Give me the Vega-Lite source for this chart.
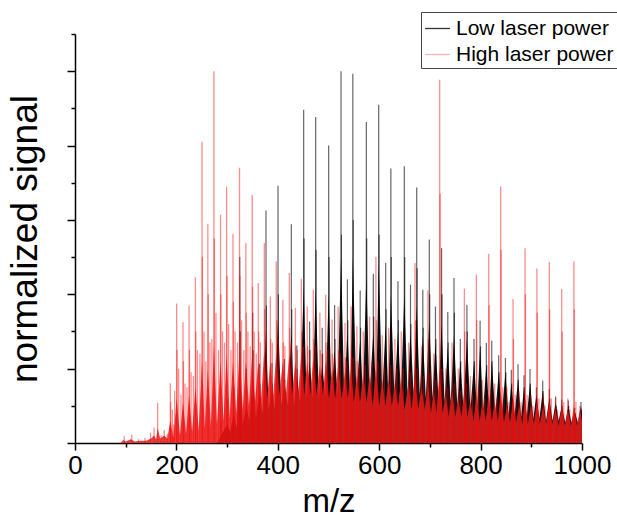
{
"$schema": "https://vega.github.io/schema/vega-lite/v6.json",
"width": 507, "height": 409,
"autosize": {"type": "none"},
"padding": {"left": 75, "top": 34, "right": 35, "bottom": 76},
"background": "#ffffff",
"config": {"view": {"stroke": null}, "font": "Liberation Sans"},
"datasets": {
"sticks": [
{"s":"H","mz":97,"v":0.018},{"s":"H","mz":112,"v":0.022},{"s":"H","mz":125,"v":0.01},{"s":"H","mz":138,"v":0.014},{"s":"H","mz":149,"v":0.028},{"s":"H","mz":156,"v":0.042},{"s":"H","mz":163,"v":0.108},{"s":"H","mz":170,"v":0.02},{"s":"H","mz":176,"v":0.035},{"s":"H","mz":182,"v":0.025},{"s":"H","mz":188,"v":0.161},{"s":"H","mz":194,"v":0.05},{"s":"H","mz":200.5,"v":0.375},{"s":"H","mz":213,"v":0.325},{"s":"H","mz":225,"v":0.37},{"s":"H","mz":237.5,"v":0.446},{"s":"H","mz":250.5,"v":0.81},{"s":"H","mz":262,"v":0.59},{"s":"H","mz":274,"v":1.0},{"s":"H","mz":287,"v":0.614},{"s":"H","mz":299,"v":0.69},{"s":"H","mz":311.6,"v":0.563},{"s":"H","mz":324.5,"v":0.74},{"s":"H","mz":337,"v":0.538},{"s":"H","mz":349.5,"v":0.667},{"s":"H","mz":361.5,"v":0.43},{"s":"H","mz":373.4,"v":0.538},{"s":"H","mz":385.3,"v":0.394},{"s":"H","mz":397,"v":0.488},{"s":"H","mz":410,"v":0.385},{"s":"H","mz":422.7,"v":0.457},{"s":"H","mz":434.7,"v":0.363},{"s":"H","mz":446.4,"v":0.442},{"s":"H","mz":458,"v":0.367},{"s":"H","mz":470,"v":0.412},{"s":"H","mz":483,"v":0.35},{"s":"H","mz":494.5,"v":0.399},{"s":"H","mz":507,"v":0.332},{"s":"H","mz":519,"v":0.367},{"s":"H","mz":532.5,"v":0.323},{"s":"H","mz":544.4,"v":0.367},{"s":"H","mz":556,"v":0.313},{"s":"H","mz":568.5,"v":0.3},{"s":"H","mz":581,"v":0.34},{"s":"H","mz":593.5,"v":0.5},{"s":"H","mz":606,"v":0.29},{"s":"H","mz":618.5,"v":0.31},{"s":"H","mz":631,"v":0.28},{"s":"H","mz":643.5,"v":0.3},{"s":"H","mz":658,"v":0.27},{"s":"H","mz":670.6,"v":0.484},{"s":"H","mz":683.3,"v":0.26},{"s":"H","mz":696,"v":0.41},{"s":"H","mz":707.6,"v":0.24},{"s":"H","mz":719.3,"v":0.977},{"s":"H","mz":731.5,"v":0.2},{"s":"H","mz":743.7,"v":0.27},{"s":"H","mz":756,"v":0.2},{"s":"H","mz":768,"v":0.415},{"s":"H","mz":779.8,"v":0.18},{"s":"H","mz":791.6,"v":0.453},{"s":"H","mz":803.8,"v":0.17},{"s":"H","mz":816,"v":0.509},{"s":"H","mz":827.8,"v":0.16},{"s":"H","mz":839.6,"v":0.69},{"s":"H","mz":851.8,"v":0.15},{"s":"H","mz":864,"v":0.387},{"s":"H","mz":875.8,"v":0.14},{"s":"H","mz":887.6,"v":0.524},{"s":"H","mz":899.3,"v":0.13},{"s":"H","mz":911,"v":0.469},{"s":"H","mz":923.3,"v":0.13},{"s":"H","mz":935.5,"v":0.487},{"s":"H","mz":947.8,"v":0.12},{"s":"H","mz":960,"v":0.414},{"s":"H","mz":972,"v":0.12},{"s":"H","mz":984,"v":0.488},{"s":"H","mz":996,"v":0.1},
{"s":"H","mz":188.8,"v":0.11},{"s":"H","mz":201.3,"v":0.25},{"s":"H","mz":213.8,"v":0.22},{"s":"H","mz":225.8,"v":0.25},{"s":"H","mz":238.3,"v":0.3},{"s":"H","mz":251.3,"v":0.5},{"s":"H","mz":262.8,"v":0.4},{"s":"H","mz":274.8,"v":0.55},{"s":"H","mz":287.8,"v":0.4},{"s":"H","mz":299.8,"v":0.45},{"s":"H","mz":312.4,"v":0.38},{"s":"H","mz":325.3,"v":0.45},{"s":"H","mz":337.8,"v":0.35},{"s":"H","mz":350.3,"v":0.42},{"s":"H","mz":362.3,"v":0.3},{"s":"H","mz":374.2,"v":0.36},{"s":"H","mz":386.1,"v":0.28},{"s":"H","mz":397.8,"v":0.33},{"s":"H","mz":410.8,"v":0.27},{"s":"H","mz":423.5,"v":0.31},{"s":"H","mz":435.5,"v":0.26},{"s":"H","mz":447.2,"v":0.3},{"s":"H","mz":458.8,"v":0.26},{"s":"H","mz":470.8,"v":0.28},{"s":"H","mz":483.8,"v":0.25},{"s":"H","mz":495.3,"v":0.27},{"s":"H","mz":507.8,"v":0.24},{"s":"H","mz":519.8,"v":0.25},{"s":"H","mz":533.3,"v":0.23},{"s":"H","mz":545.2,"v":0.25},{"s":"H","mz":556.8,"v":0.22},{"s":"H","mz":594.3,"v":0.33},{"s":"H","mz":671.4,"v":0.33},{"s":"H","mz":696.8,"v":0.28},{"s":"H","mz":720.1,"v":0.67},{"s":"H","mz":768.8,"v":0.3},{"s":"H","mz":792.4,"v":0.33},{"s":"H","mz":816.8,"v":0.37},{"s":"H","mz":840.4,"v":0.52},{"s":"H","mz":864.8,"v":0.28},{"s":"H","mz":888.4,"v":0.4},{"s":"H","mz":911.8,"v":0.35},{"s":"H","mz":936.3,"v":0.36},{"s":"H","mz":960.8,"v":0.3},{"s":"H","mz":984.8,"v":0.36},
{"s":"H","mz":192,"v":0.09},{"s":"H","mz":204.5,"v":0.2},{"s":"H","mz":217,"v":0.16},{"s":"H","mz":229,"v":0.19},{"s":"H","mz":241.5,"v":0.25},{"s":"H","mz":254.5,"v":0.3},{"s":"H","mz":266,"v":0.27},{"s":"H","mz":278,"v":0.35},{"s":"H","mz":291,"v":0.3},{"s":"H","mz":303,"v":0.32},{"s":"H","mz":315.6,"v":0.3},{"s":"H","mz":328.5,"v":0.33},{"s":"H","mz":341,"v":0.3},{"s":"H","mz":353.5,"v":0.3},{"s":"H","mz":365.5,"v":0.27},{"s":"H","mz":377.4,"v":0.3},{"s":"H","mz":389.3,"v":0.27},{"s":"H","mz":401,"v":0.28},{"s":"H","mz":414,"v":0.26},{"s":"H","mz":426.7,"v":0.27},{"s":"H","mz":438.7,"v":0.25},{"s":"H","mz":450.4,"v":0.26},{"s":"H","mz":462,"v":0.25},{"s":"H","mz":474,"v":0.26},{"s":"H","mz":487,"v":0.24},{"s":"H","mz":498.5,"v":0.25},{"s":"H","mz":511,"v":0.23},{"s":"H","mz":523,"v":0.24},{"s":"H","mz":536.5,"v":0.22},{"s":"H","mz":548.4,"v":0.23},{"s":"H","mz":560,"v":0.21},{"s":"H","mz":572.5,"v":0.21},{"s":"H","mz":585,"v":0.22},{"s":"H","mz":597.5,"v":0.22},{"s":"H","mz":610,"v":0.2},{"s":"H","mz":622.5,"v":0.21},{"s":"H","mz":635,"v":0.2},{"s":"H","mz":647.5,"v":0.2},{"s":"H","mz":662,"v":0.19},{"s":"H","mz":674.6,"v":0.2},{"s":"H","mz":687.3,"v":0.18},{"s":"H","mz":700,"v":0.19},{"s":"H","mz":711.6,"v":0.17},{"s":"H","mz":723.3,"v":0.2},{"s":"H","mz":735.5,"v":0.15},{"s":"H","mz":747.7,"v":0.16},{"s":"H","mz":760,"v":0.14},{"s":"H","mz":772,"v":0.16},{"s":"H","mz":783.8,"v":0.13},{"s":"H","mz":795.6,"v":0.15},{"s":"H","mz":807.8,"v":0.12},{"s":"H","mz":820,"v":0.14},{"s":"H","mz":831.8,"v":0.12},{"s":"H","mz":843.6,"v":0.15},{"s":"H","mz":855.8,"v":0.11},{"s":"H","mz":868,"v":0.13},{"s":"H","mz":879.8,"v":0.11},{"s":"H","mz":891.6,"v":0.13},{"s":"H","mz":903.3,"v":0.1},{"s":"H","mz":915,"v":0.12},{"s":"H","mz":927.3,"v":0.1},{"s":"H","mz":939.5,"v":0.12},{"s":"H","mz":951.8,"v":0.09},{"s":"H","mz":964,"v":0.11},{"s":"H","mz":976,"v":0.09},{"s":"H","mz":988,"v":0.11},
{"s":"H","mz":196.5,"v":0.14},{"s":"H","mz":209,"v":0.13},{"s":"H","mz":221,"v":0.15},{"s":"H","mz":233.5,"v":0.18},{"s":"H","mz":246.5,"v":0.24},{"s":"H","mz":258,"v":0.22},{"s":"H","mz":270,"v":0.28},{"s":"H","mz":283,"v":0.25},{"s":"H","mz":295,"v":0.27},{"s":"H","mz":307.6,"v":0.25},{"s":"H","mz":320.5,"v":0.27},{"s":"H","mz":333,"v":0.25},{"s":"H","mz":345.5,"v":0.26},{"s":"H","mz":357.5,"v":0.24},
{"s":"L","mz":288,"v":0.06},{"s":"L","mz":300,"v":0.12},{"s":"L","mz":313,"v":0.15},{"s":"L","mz":325,"v":0.5},{"s":"L","mz":338,"v":0.2},{"s":"L","mz":350.5,"v":0.35},{"s":"L","mz":364,"v":0.213},{"s":"L","mz":376.7,"v":0.625},{"s":"L","mz":388.5,"v":0.215},{"s":"L","mz":400.4,"v":0.692},{"s":"L","mz":413,"v":0.226},{"s":"L","mz":426.7,"v":0.588},{"s":"L","mz":437.6,"v":0.262},{"s":"L","mz":451,"v":0.896},{"s":"L","mz":462.7,"v":0.327},{"s":"L","mz":474.7,"v":0.877},{"s":"L","mz":487.6,"v":0.31},{"s":"L","mz":500.3,"v":0.8},{"s":"L","mz":512,"v":0.371},{"s":"L","mz":524.7,"v":1.0},{"s":"L","mz":537.3,"v":0.44},{"s":"L","mz":548,"v":0.993},{"s":"L","mz":562.5,"v":0.41},{"s":"L","mz":574.6,"v":0.863},{"s":"L","mz":588.4,"v":0.455},{"s":"L","mz":599,"v":0.91},{"s":"L","mz":612.8,"v":0.485},{"s":"L","mz":623,"v":0.738},{"s":"L","mz":637,"v":0.435},{"s":"L","mz":649.5,"v":0.744},{"s":"L","mz":661.7,"v":0.426},{"s":"L","mz":674,"v":0.687},{"s":"L","mz":686,"v":0.412},{"s":"L","mz":698.8,"v":0.547},{"s":"L","mz":711,"v":0.367},{"s":"L","mz":723,"v":0.524},{"s":"L","mz":735.3,"v":0.352},{"s":"L","mz":747.5,"v":0.444},{"s":"L","mz":760,"v":0.28},{"s":"L","mz":773,"v":0.372},{"s":"L","mz":787,"v":0.28},{"s":"L","mz":799,"v":0.329},{"s":"L","mz":811.3,"v":0.269},{"s":"L","mz":822,"v":0.275},{"s":"L","mz":835.7,"v":0.236},{"s":"L","mz":849,"v":0.229},{"s":"L","mz":860.6,"v":0.197},{"s":"L","mz":873.8,"v":0.212},{"s":"L","mz":885.6,"v":0.182},{"s":"L","mz":897.4,"v":0.199},{"s":"L","mz":910,"v":0.15},{"s":"L","mz":922.5,"v":0.168},{"s":"L","mz":935.5,"v":0.145},{"s":"L","mz":948,"v":0.125},{"s":"L","mz":960,"v":0.116},{"s":"L","mz":973,"v":0.114},{"s":"L","mz":985.6,"v":0.094},{"s":"L","mz":998,"v":0.11},
{"s":"L","mz":325.8,"v":0.3},{"s":"L","mz":351.3,"v":0.25},{"s":"L","mz":364.8,"v":0.16},{"s":"L","mz":377.5,"v":0.37},{"s":"L","mz":389.3,"v":0.16},{"s":"L","mz":401.2,"v":0.4},{"s":"L","mz":413.8,"v":0.17},{"s":"L","mz":427.5,"v":0.36},{"s":"L","mz":438.4,"v":0.2},{"s":"L","mz":451.8,"v":0.55},{"s":"L","mz":463.5,"v":0.25},{"s":"L","mz":475.5,"v":0.52},{"s":"L","mz":488.4,"v":0.24},{"s":"L","mz":501.1,"v":0.5},{"s":"L","mz":512.8,"v":0.28},{"s":"L","mz":525.5,"v":0.56},{"s":"L","mz":538.1,"v":0.33},{"s":"L","mz":548.8,"v":0.6},{"s":"L","mz":563.3,"v":0.31},{"s":"L","mz":575.4,"v":0.55},{"s":"L","mz":589.2,"v":0.34},{"s":"L","mz":599.8,"v":0.56},{"s":"L","mz":613.6,"v":0.36},{"s":"L","mz":623.8,"v":0.5},{"s":"L","mz":637.8,"v":0.33},{"s":"L","mz":650.3,"v":0.5},{"s":"L","mz":662.5,"v":0.32},{"s":"L","mz":674.8,"v":0.47},{"s":"L","mz":686.8,"v":0.31},{"s":"L","mz":699.6,"v":0.4},{"s":"L","mz":711.8,"v":0.28},{"s":"L","mz":723.8,"v":0.4},{"s":"L","mz":736.1,"v":0.27},{"s":"L","mz":748.3,"v":0.35},{"s":"L","mz":760.8,"v":0.22},{"s":"L","mz":773.8,"v":0.3},{"s":"L","mz":787.8,"v":0.22},{"s":"L","mz":799.8,"v":0.26},{"s":"L","mz":812.1,"v":0.21},{"s":"L","mz":822.8,"v":0.22},{"s":"L","mz":836.5,"v":0.19},{"s":"L","mz":849.8,"v":0.19},{"s":"L","mz":861.4,"v":0.16},{"s":"L","mz":874.6,"v":0.17},{"s":"L","mz":886.4,"v":0.15},{"s":"L","mz":898.2,"v":0.16},{"s":"L","mz":910.8,"v":0.12},{"s":"L","mz":923.3,"v":0.14},{"s":"L","mz":936.3,"v":0.12},{"s":"L","mz":948.8,"v":0.1},{"s":"L","mz":960.8,"v":0.1},{"s":"L","mz":973.8,"v":0.1},{"s":"L","mz":986.4,"v":0.08},{"s":"L","mz":998.8,"v":0.09}
],
"fill": [
{"s":"H","mz":90,"v":0},{"s":"H","mz":95,"v":0.008},{"s":"H","mz":100,"v":0.004},{"s":"H","mz":110,"v":0.01},{"s":"H","mz":118,"v":0.004},{"s":"H","mz":130,"v":0.006},{"s":"H","mz":140,"v":0.006},{"s":"H","mz":150,"v":0.012},{"s":"H","mz":156,"v":0.02},{"s":"H","mz":160,"v":0.01},{"s":"H","mz":163,"v":0.04},{"s":"H","mz":168,"v":0.012},{"s":"H","mz":176,"v":0.02},{"s":"H","mz":182,"v":0.012},{"s":"H","mz":188,"v":0.06},{"s":"H","mz":194,"v":0.015},{"s":"H","mz":200.5,"v":0.12},{"s":"H","mz":207,"v":0.02},{"s":"H","mz":213,"v":0.11},{"s":"H","mz":219,"v":0.025},{"s":"H","mz":225,"v":0.13},{"s":"H","mz":231,"v":0.03},{"s":"H","mz":237.5,"v":0.15},{"s":"H","mz":244,"v":0.035},{"s":"H","mz":250.5,"v":0.22},{"s":"H","mz":256,"v":0.04},{"s":"H","mz":262,"v":0.2},{"s":"H","mz":268,"v":0.045},{"s":"H","mz":274,"v":0.26},{"s":"H","mz":280,"v":0.05},{"s":"H","mz":287,"v":0.22},{"s":"H","mz":293,"v":0.06},{"s":"H","mz":299,"v":0.24},{"s":"H","mz":305,"v":0.07},{"s":"H","mz":311.6,"v":0.22},{"s":"H","mz":318,"v":0.08},{"s":"H","mz":324.5,"v":0.25},{"s":"H","mz":331,"v":0.09},{"s":"H","mz":337,"v":0.22},{"s":"H","mz":343,"v":0.1},{"s":"H","mz":349.5,"v":0.24},{"s":"H","mz":355,"v":0.11},{"s":"H","mz":361.5,"v":0.22},{"s":"H","mz":367,"v":0.12},{"s":"H","mz":373.4,"v":0.25},{"s":"H","mz":379,"v":0.12},{"s":"H","mz":385.3,"v":0.22},{"s":"H","mz":391,"v":0.13},{"s":"H","mz":397,"v":0.24},{"s":"H","mz":403,"v":0.13},{"s":"H","mz":410,"v":0.22},{"s":"H","mz":416,"v":0.13},{"s":"H","mz":422.7,"v":0.24},{"s":"H","mz":428,"v":0.13},{"s":"H","mz":434.7,"v":0.22},{"s":"H","mz":440,"v":0.13},{"s":"H","mz":446.4,"v":0.24},{"s":"H","mz":452,"v":0.13},{"s":"H","mz":458,"v":0.22},{"s":"H","mz":464,"v":0.13},{"s":"H","mz":470,"v":0.23},{"s":"H","mz":476,"v":0.13},{"s":"H","mz":483,"v":0.21},{"s":"H","mz":489,"v":0.13},{"s":"H","mz":494.5,"v":0.22},{"s":"H","mz":501,"v":0.12},{"s":"H","mz":507,"v":0.2},{"s":"H","mz":513,"v":0.12},{"s":"H","mz":519,"v":0.21},{"s":"H","mz":526,"v":0.12},{"s":"H","mz":532.5,"v":0.19},{"s":"H","mz":538,"v":0.12},{"s":"H","mz":544.4,"v":0.2},{"s":"H","mz":550,"v":0.11},{"s":"H","mz":556,"v":0.18},{"s":"H","mz":562,"v":0.11},{"s":"H","mz":568.5,"v":0.18},{"s":"H","mz":575,"v":0.11},{"s":"H","mz":581,"v":0.18},{"s":"H","mz":587,"v":0.1},{"s":"H","mz":593.5,"v":0.2},{"s":"H","mz":600,"v":0.1},{"s":"H","mz":606,"v":0.17},{"s":"H","mz":612,"v":0.1},{"s":"H","mz":618.5,"v":0.17},{"s":"H","mz":625,"v":0.1},{"s":"H","mz":631,"v":0.16},{"s":"H","mz":637,"v":0.1},{"s":"H","mz":643.5,"v":0.17},{"s":"H","mz":650,"v":0.09},{"s":"H","mz":658,"v":0.16},{"s":"H","mz":664,"v":0.09},{"s":"H","mz":670.6,"v":0.18},{"s":"H","mz":677,"v":0.09},{"s":"H","mz":683.3,"v":0.15},{"s":"H","mz":690,"v":0.09},{"s":"H","mz":696,"v":0.16},{"s":"H","mz":702,"v":0.08},{"s":"H","mz":707.6,"v":0.14},{"s":"H","mz":713,"v":0.08},{"s":"H","mz":719.3,"v":0.2},{"s":"H","mz":725,"v":0.08},{"s":"H","mz":731.5,"v":0.13},{"s":"H","mz":737,"v":0.07},{"s":"H","mz":743.7,"v":0.14},{"s":"H","mz":750,"v":0.07},{"s":"H","mz":756,"v":0.12},{"s":"H","mz":762,"v":0.07},{"s":"H","mz":768,"v":0.14},{"s":"H","mz":774,"v":0.07},{"s":"H","mz":779.8,"v":0.11},{"s":"H","mz":786,"v":0.06},{"s":"H","mz":791.6,"v":0.13},{"s":"H","mz":798,"v":0.06},{"s":"H","mz":803.8,"v":0.11},{"s":"H","mz":810,"v":0.06},{"s":"H","mz":816,"v":0.13},{"s":"H","mz":822,"v":0.06},{"s":"H","mz":827.8,"v":0.11},{"s":"H","mz":834,"v":0.06},{"s":"H","mz":839.6,"v":0.14},{"s":"H","mz":846,"v":0.055},{"s":"H","mz":851.8,"v":0.1},{"s":"H","mz":858,"v":0.055},{"s":"H","mz":864,"v":0.12},{"s":"H","mz":870,"v":0.055},{"s":"H","mz":875.8,"v":0.1},{"s":"H","mz":882,"v":0.05},{"s":"H","mz":887.6,"v":0.12},{"s":"H","mz":893,"v":0.05},{"s":"H","mz":899.3,"v":0.1},{"s":"H","mz":905,"v":0.05},{"s":"H","mz":911,"v":0.11},{"s":"H","mz":917,"v":0.05},{"s":"H","mz":923.3,"v":0.1},{"s":"H","mz":929,"v":0.05},{"s":"H","mz":935.5,"v":0.11},{"s":"H","mz":941,"v":0.05},{"s":"H","mz":947.8,"v":0.09},{"s":"H","mz":954,"v":0.045},{"s":"H","mz":960,"v":0.1},{"s":"H","mz":966,"v":0.045},{"s":"H","mz":972,"v":0.09},{"s":"H","mz":978,"v":0.045},{"s":"H","mz":984,"v":0.1},{"s":"H","mz":990,"v":0.045},{"s":"H","mz":996,"v":0.09},{"s":"H","mz":1000,"v":0.06},
{"s":"L","mz":280,"v":0},{"s":"L","mz":300,"v":0.05},{"s":"L","mz":306,"v":0.03},{"s":"L","mz":313,"v":0.08},{"s":"L","mz":319,"v":0.04},{"s":"L","mz":325,"v":0.2},{"s":"L","mz":331,"v":0.05},{"s":"L","mz":338,"v":0.1},{"s":"L","mz":344,"v":0.06},{"s":"L","mz":350.5,"v":0.18},{"s":"L","mz":357,"v":0.07},{"s":"L","mz":364,"v":0.14},{"s":"L","mz":370,"v":0.08},{"s":"L","mz":376.7,"v":0.3},{"s":"L","mz":382,"v":0.09},{"s":"L","mz":388.5,"v":0.15},{"s":"L","mz":394,"v":0.09},{"s":"L","mz":400.4,"v":0.33},{"s":"L","mz":407,"v":0.1},{"s":"L","mz":413,"v":0.16},{"s":"L","mz":420,"v":0.1},{"s":"L","mz":426.7,"v":0.3},{"s":"L","mz":432,"v":0.1},{"s":"L","mz":437.6,"v":0.18},{"s":"L","mz":444,"v":0.11},{"s":"L","mz":451,"v":0.42},{"s":"L","mz":457,"v":0.12},{"s":"L","mz":462.7,"v":0.22},{"s":"L","mz":469,"v":0.12},{"s":"L","mz":474.7,"v":0.42},{"s":"L","mz":481,"v":0.12},{"s":"L","mz":487.6,"v":0.21},{"s":"L","mz":494,"v":0.12},{"s":"L","mz":500.3,"v":0.4},{"s":"L","mz":506,"v":0.13},{"s":"L","mz":512,"v":0.25},{"s":"L","mz":518,"v":0.13},{"s":"L","mz":524.7,"v":0.5},{"s":"L","mz":531,"v":0.13},{"s":"L","mz":537.3,"v":0.3},{"s":"L","mz":543,"v":0.13},{"s":"L","mz":548,"v":0.5},{"s":"L","mz":555,"v":0.13},{"s":"L","mz":562.5,"v":0.28},{"s":"L","mz":568,"v":0.13},{"s":"L","mz":574.6,"v":0.45},{"s":"L","mz":581,"v":0.13},{"s":"L","mz":588.4,"v":0.3},{"s":"L","mz":594,"v":0.13},{"s":"L","mz":599,"v":0.48},{"s":"L","mz":606,"v":0.13},{"s":"L","mz":612.8,"v":0.32},{"s":"L","mz":618,"v":0.13},{"s":"L","mz":623,"v":0.4},{"s":"L","mz":630,"v":0.13},{"s":"L","mz":637,"v":0.3},{"s":"L","mz":643,"v":0.13},{"s":"L","mz":649.5,"v":0.4},{"s":"L","mz":656,"v":0.13},{"s":"L","mz":661.7,"v":0.3},{"s":"L","mz":668,"v":0.13},{"s":"L","mz":674,"v":0.37},{"s":"L","mz":680,"v":0.13},{"s":"L","mz":686,"v":0.29},{"s":"L","mz":692,"v":0.12},{"s":"L","mz":698.8,"v":0.33},{"s":"L","mz":705,"v":0.12},{"s":"L","mz":711,"v":0.27},{"s":"L","mz":717,"v":0.12},{"s":"L","mz":723,"v":0.32},{"s":"L","mz":729,"v":0.11},{"s":"L","mz":735.3,"v":0.26},{"s":"L","mz":741,"v":0.11},{"s":"L","mz":747.5,"v":0.29},{"s":"L","mz":754,"v":0.1},{"s":"L","mz":760,"v":0.22},{"s":"L","mz":766,"v":0.1},{"s":"L","mz":773,"v":0.28},{"s":"L","mz":780,"v":0.09},{"s":"L","mz":787,"v":0.22},{"s":"L","mz":793,"v":0.09},{"s":"L","mz":799,"v":0.26},{"s":"L","mz":805,"v":0.09},{"s":"L","mz":811.3,"v":0.21},{"s":"L","mz":817,"v":0.085},{"s":"L","mz":822,"v":0.22},{"s":"L","mz":829,"v":0.08},{"s":"L","mz":835.7,"v":0.19},{"s":"L","mz":842,"v":0.08},{"s":"L","mz":849,"v":0.19},{"s":"L","mz":855,"v":0.075},{"s":"L","mz":860.6,"v":0.16},{"s":"L","mz":867,"v":0.075},{"s":"L","mz":873.8,"v":0.17},{"s":"L","mz":880,"v":0.07},{"s":"L","mz":885.6,"v":0.15},{"s":"L","mz":891,"v":0.07},{"s":"L","mz":897.4,"v":0.16},{"s":"L","mz":904,"v":0.065},{"s":"L","mz":910,"v":0.13},{"s":"L","mz":916,"v":0.065},{"s":"L","mz":922.5,"v":0.14},{"s":"L","mz":929,"v":0.06},{"s":"L","mz":935.5,"v":0.12},{"s":"L","mz":942,"v":0.06},{"s":"L","mz":948,"v":0.11},{"s":"L","mz":954,"v":0.06},{"s":"L","mz":960,"v":0.1},{"s":"L","mz":967,"v":0.055},{"s":"L","mz":973,"v":0.1},{"s":"L","mz":979,"v":0.055},{"s":"L","mz":985.6,"v":0.085},{"s":"L","mz":992,"v":0.055},{"s":"L","mz":998,"v":0.1},{"s":"L","mz":1000,"v":0.07}
]
},
"encoding": {
"x": {"field": "mz", "type": "quantitative", "scale": {"domain": [0, 1000], "nice": false},
 "axis": {"title": "m/z", "titleFontSize": 33, "titleFontWeight": "normal", "titleColor": "#000", "titlePadding": 7,
  "values": [0,100,200,300,400,500,600,700,800,900,1000],
  "labelExpr": "datum.value % 200 == 0 ? '' + datum.value : ''",
  "labelFontSize": 26, "labelColor": "#000", "labelPadding": 2, "labelFlush": false, "labelOverlap": false,
  "tickColor": "#000", "tickWidth": 1.5,
  "tickSize": {"condition": {"test": "datum.value % 200 == 0", "value": 7}, "value": 4},
  "domainColor": "#000", "domainWidth": 1.5, "grid": false}},
"y": {"field": "v", "type": "quantitative", "scale": {"domain": [0, 1.1], "nice": false},
 "axis": {"title": "normalized signal", "titleFontSize": 37, "titleFontWeight": "normal", "titleColor": "#000", "titlePadding": 22,
  "values": [0,0.1,0.2,0.3,0.4,0.5,0.6,0.7,0.8,0.9,1.0,1.1],
  "labels": false,
  "tickColor": "#000", "tickWidth": 1.5,
  "tickSize": {"condition": {"test": "round(datum.value*10) % 2 == 0", "value": 8}, "value": 4},
  "domainColor": "#000", "domainWidth": 1.5, "grid": false}}
},
"layer": [
{"data": {"name": "fill"}, "transform": [{"filter": "datum.s == 'L'"}],
 "mark": {"type": "area", "color": "#000000", "opacity": 0.9}},
{"data": {"name": "sticks"}, "transform": [{"filter": "datum.s == 'L'"}],
 "mark": {"type": "rule", "strokeWidth": 1.2, "opacity": 0.6},
 "encoding": {"y2": {"datum": 0},
  "color": {"field": "s", "type": "nominal", "scale": {"domain": ["L", "H"], "range": ["#000000", "#ff0000"]},
   "legend": {"title": null, "orient": "none", "legendX": 346, "legendY": -22,
    "symbolType": "stroke", "symbolSize": 625, "symbolStrokeWidth": 1.3, "symbolOpacity": 1,
    "labelFontSize": 21, "labelColor": "#000", "labelLimit": 400, "labelOffset": 5,
    "labelExpr": "datum.value == 'L' ? 'Low laser power' : 'High laser power'",
    "strokeColor": "#444", "fillColor": "#ffffff", "padding": 3, "rowPadding": 2,
    "encode": {"symbols": {"update": {"opacity": {"signal": "datum.value == 'H' ? 0.3 : 0.8"}}}}}}}},
{"data": {"name": "fill"}, "transform": [{"filter": "datum.s == 'H'"}],
 "mark": {"type": "area", "color": "#e02020", "opacity": 0.85}},
{"data": {"name": "sticks"}, "transform": [{"filter": "datum.s == 'H'"}],
 "mark": {"type": "rule", "strokeWidth": 1.3, "opacity": 0.45},
 "encoding": {"y2": {"datum": 0},
  "color": {"field": "s", "type": "nominal", "scale": {"domain": ["L", "H"], "range": ["#000000", "#ff0000"]}}}}
]
}
